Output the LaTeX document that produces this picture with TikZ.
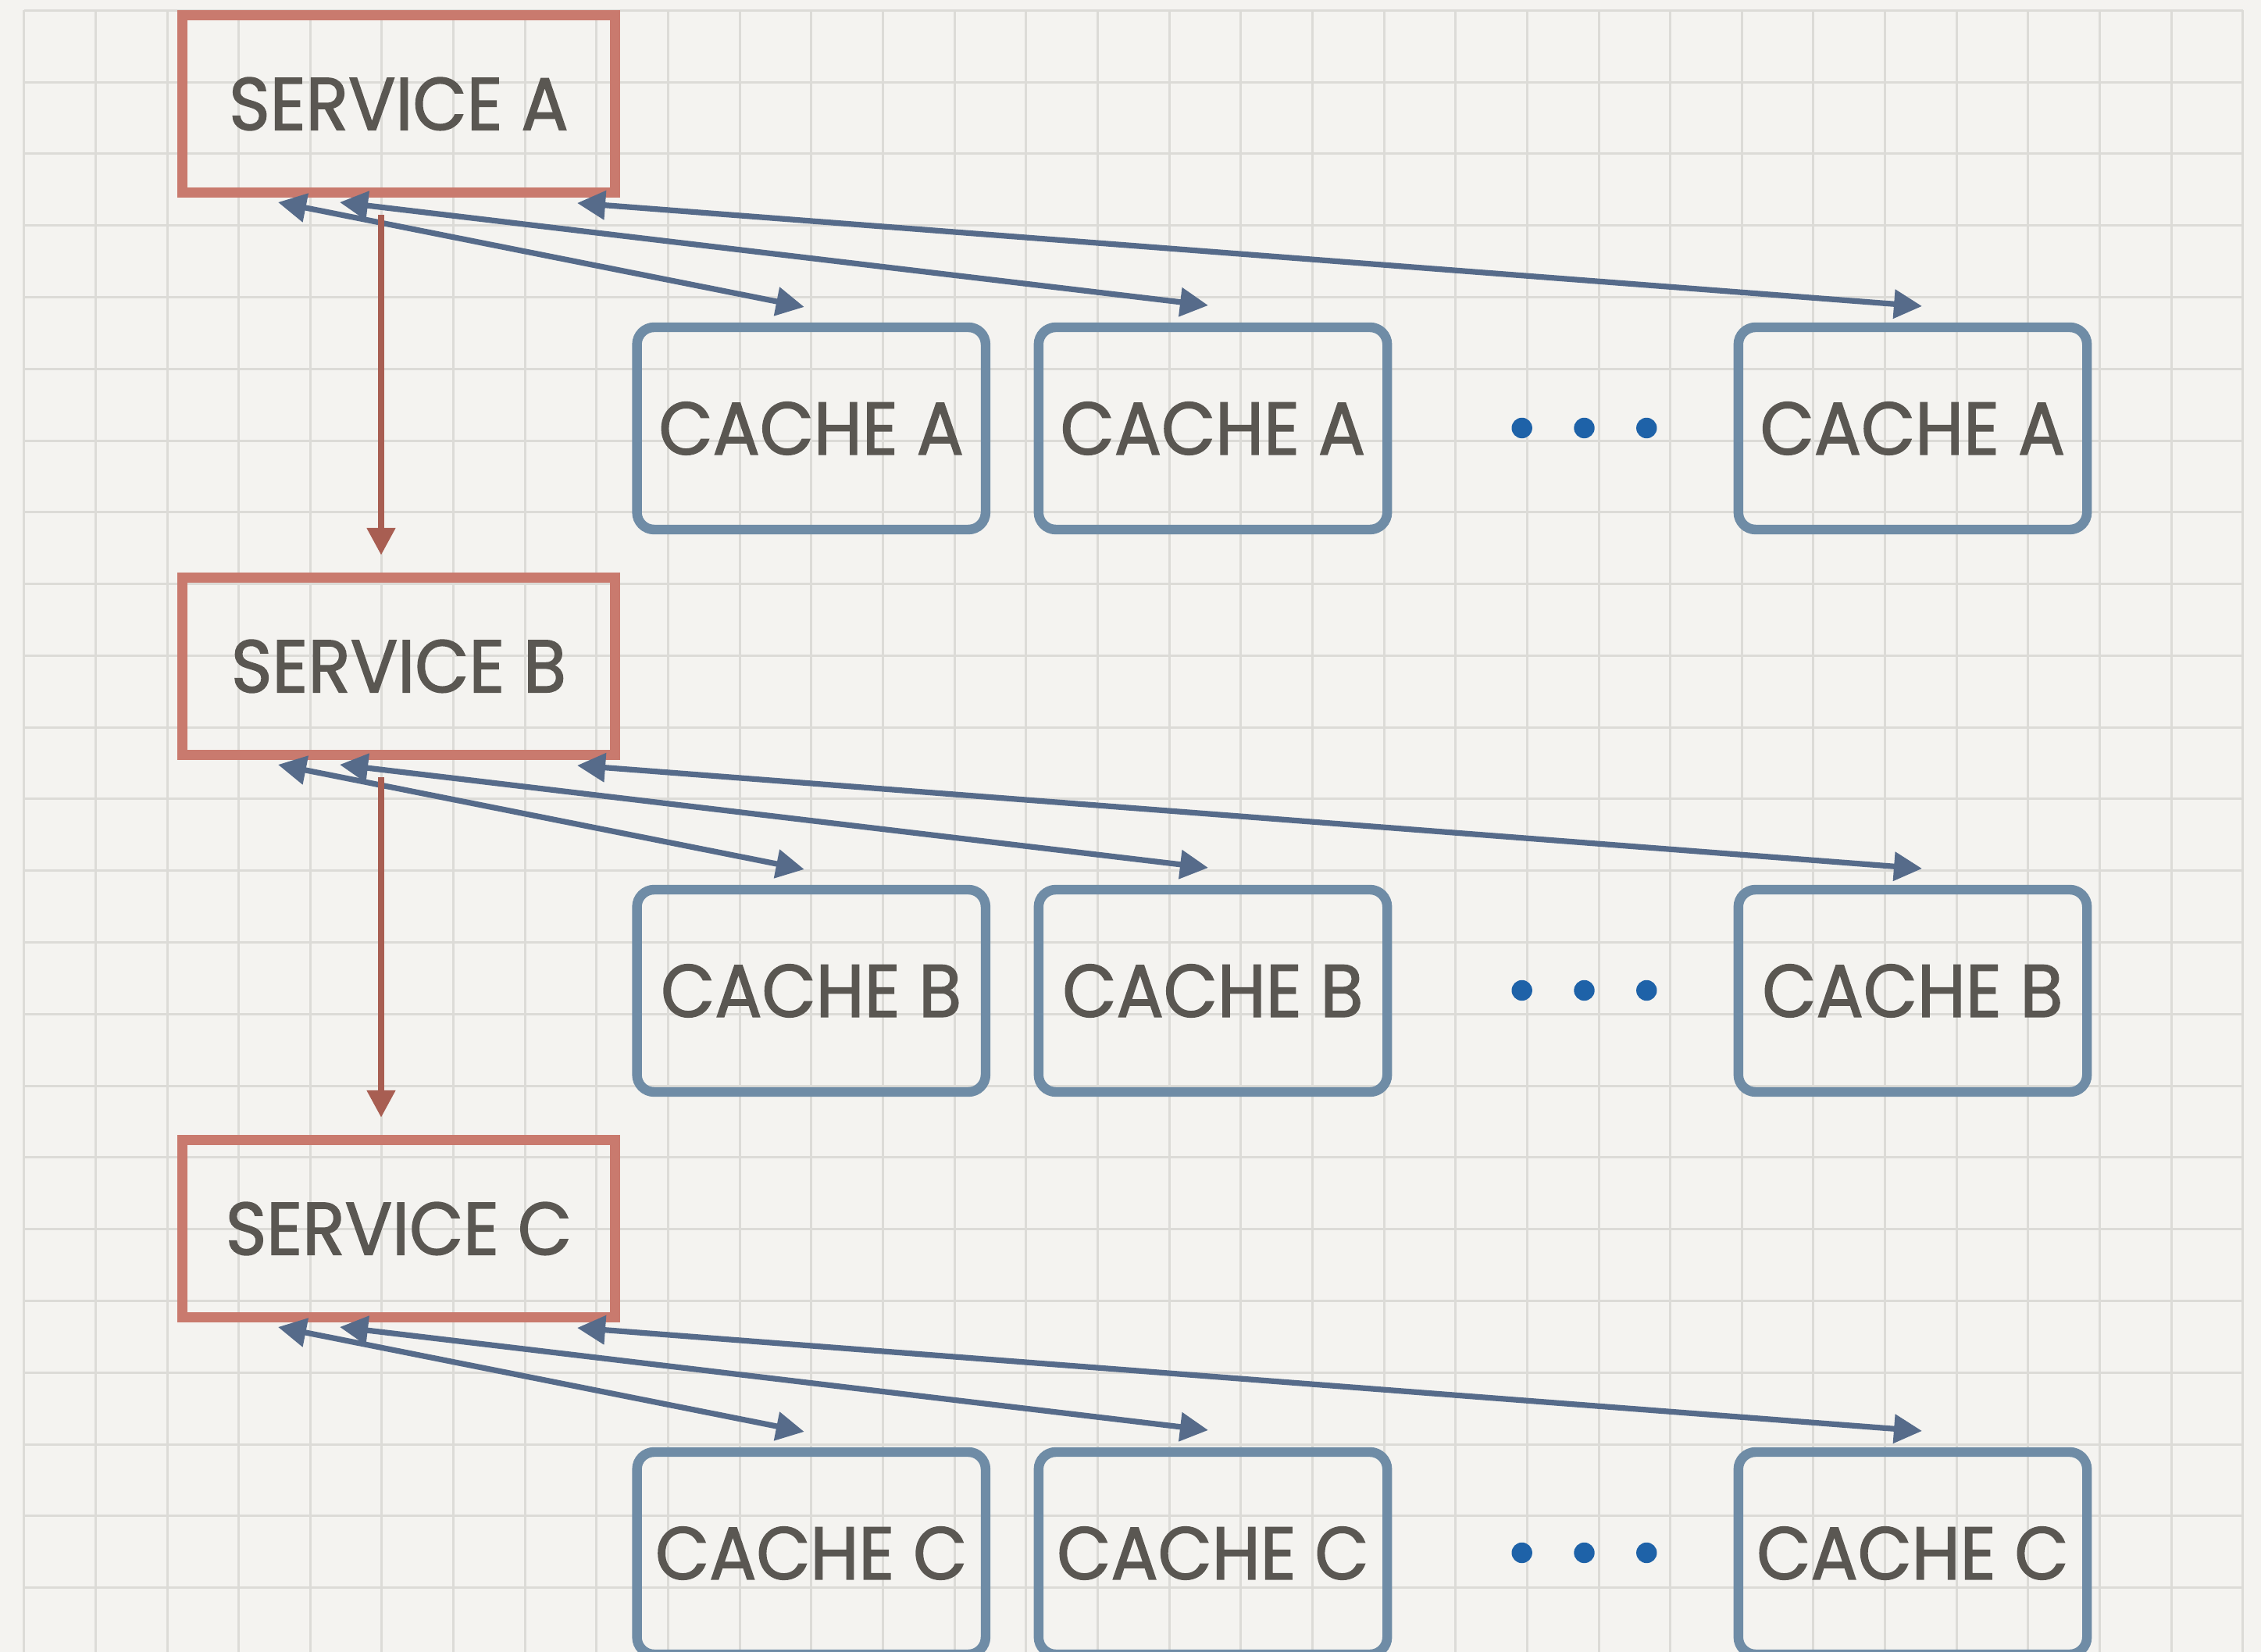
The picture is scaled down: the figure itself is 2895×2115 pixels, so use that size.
\documentclass[tikz,border=0pt]{standalone}
\usepackage{fontspec}
\setmainfont{Poppins}
\newfontfamily\boxlabelfont{Poppins}[FakeBold=1.6, FakeStretch=0.94]
\usetikzlibrary{arrows.meta}

\definecolor{paper}{HTML}{F4F3F0}
\definecolor{gridline}{HTML}{DCDBD7}
\definecolor{svcred}{HTML}{C97A6E}
\definecolor{flowred}{HTML}{A85E52}
\definecolor{cacheblue}{HTML}{6F8CA6}
\definecolor{linkblue}{HTML}{566B8A}
\definecolor{labelgray}{HTML}{5A5752}
\definecolor{dotblue}{HTML}{1E62A8}

\begin{document}
\begin{tikzpicture}[
  x=0.25pt, y=-0.25pt,
  gridstroke/.style={draw=gridline, line width=0.75pt},
  label/.style={text=labelgray, font=\boxlabelfont\fontsize{23.8}{24}\selectfont},
  service/.style={label, draw=svcred, line width=3.25pt,
    minimum width=138.5pt, minimum height=56.75pt, inner sep=0pt, outer sep=0pt},
  cachebox/.style={label, draw=cacheblue, line width=3.1pt, rounded corners=5.5pt,
    minimum width=111.6pt, minimum height=64.75pt, inner sep=0pt, outer sep=0pt},
  ellipsisdot/.style={circle, fill=dotblue, minimum size=6.6pt, inner sep=0pt},
  link/.style={draw=linkblue, line width=1.8pt,
    {Triangle[length=9pt,width=9pt]}-{Triangle[length=9pt,width=9pt]}},
  flow/.style={draw=flowred, line width=2pt, -{Triangle[length=8.7pt,width=8.7pt]}}
]
% paper and page extent
\useasboundingbox (0,0) rectangle (2895,2115);
\fill[paper] (0,0) rectangle (2895,2115);

% squared paper
\foreach \i in {0,...,31}
  \draw[gridstroke] (30.7+91.65*\i, 13.3) -- (30.7+91.65*\i, 2115);
\foreach \j in {0,...,22}
  \draw[gridstroke] (30.7, 13.3+91.79*\j) -- (2871.9, 13.3+91.79*\j);

% one service with its caches per row
\foreach \L/\dy in {A/0, B/720, C/1440} {
  \node[service]  (svc\L) at (510.5, 133+\dy) {SERVICE \L};
  \node[cachebox] (c\L1)  at (1038.75, 548.5+\dy) {CACHE \L};
  \node[cachebox] (c\L2)  at (1553, 548.5+\dy) {CACHE \L};
  \node[cachebox] (c\L3)  at (2449, 548.5+\dy) {CACHE \L};
  \node[ellipsisdot] (d\L1) at (1948.7, 548+\dy) {};
  \node[ellipsisdot] (d\L2) at (2028.5, 548+\dy) {};
  \node[ellipsisdot] (d\L3) at (2108.3, 548+\dy) {};
}

% service-to-cache links
\foreach \L in {A, B, C} {
  \draw[link] ([shift={(-154.5,12.5)}]svc\L.south) -- ([shift={(-9,-26)}]c\L1.north);
  \draw[link] ([shift={(-75.5,12.5)}]svc\L.south)  -- ([shift={(-6,-28)}]c\L2.north);
  \draw[link] ([shift={(228.5,13.5)}]svc\L.south)  -- ([shift={(12,-27)}]c\L3.north);
}

% service call chain
\draw[flow] ([shift={(-22.5,28.5)}]svcA.south) -- ([shift={(-22.5,-28.7)}]svcB.north);
\draw[flow] ([shift={(-22.5,28.5)}]svcB.south) -- ([shift={(-22.5,-28.7)}]svcC.north);
\end{tikzpicture}
\end{document}
